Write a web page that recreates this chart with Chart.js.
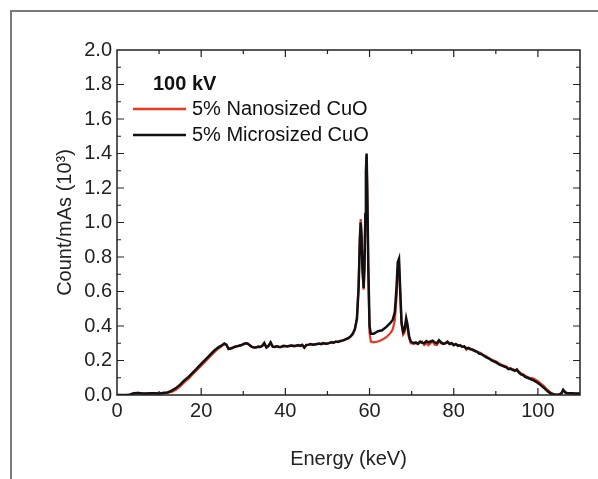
<!DOCTYPE html>
<html>
<head>
<meta charset="utf-8">
<script src="https://cdn.jsdelivr.net/npm/chart.js@4.4.0/dist/chart.umd.min.js"></script>
<style>
  html, body { margin: 0; padding: 0; background: #fff; }
  #wrap { position: relative; width: 598px; height: 479px; overflow: hidden; }
  #frame { position: absolute; left: 10px; top: 10px; width: 600px; height: 480px;
           border-left: 2px solid #7a7a7a; border-top: 2px solid #7a7a7a; }
  canvas { position: absolute; left: 0; top: 0; }
</style>
</head>
<body>
<div id="wrap">
  <div id="frame"></div>
  <canvas id="spectrumChart" width="598" height="479"></canvas>
</div>
<script>
// Energy bins (keV)
const energy = [
  0, 1, 2, 3, 4, 5, 6, 7, 8, 9,
  10, 11, 12, 13, 14, 15, 16, 17, 18, 19,
  20, 21, 22, 23, 24, 25, 25.5, 26, 26.5, 27,
  27.5, 28, 28.5, 29, 29.5, 30, 30.5, 31, 31.5, 32,
  32.5, 33, 33.5, 34, 34.5, 35, 35.5, 36, 36.5, 37,
  37.5, 38, 38.5, 39, 39.5, 40, 40.5, 41, 41.5, 42,
  42.5, 43, 43.5, 44, 44.5, 45, 45.5, 46, 46.5, 47,
  47.5, 48, 48.5, 49, 49.5, 50, 50.5, 51, 51.5, 52,
  52.5, 53, 53.5, 54, 54.5, 55, 55.5, 56, 56.5, 57,
  57.4, 57.7, 57.9, 58.1, 58.3, 58.6, 58.8, 59.0, 59.15, 59.3,
  59.45, 59.7, 60.0, 60.3, 61, 62, 63, 64, 65, 65.5,
  66, 66.4, 66.7, 67.0, 67.3, 67.6, 68.0, 68.3, 68.7, 69.0,
  69.4, 69.8, 70.5, 71, 71.5, 72, 72.5, 73, 73.5, 74,
  74.5, 75, 75.5, 76, 76.5, 77, 77.5, 78, 78.5, 79,
  79.5, 80, 80.5, 81, 81.5, 82, 82.5, 83, 83.5, 84,
  84.5, 85, 85.5, 86, 86.5, 87, 87.5, 88, 88.5, 89,
  89.5, 90, 90.5, 91, 91.5, 92, 92.5, 93, 93.5, 94,
  94.5, 95, 95.5, 96, 96.5, 97, 97.5, 98, 98.5, 99,
  99.5, 100, 100.5, 101, 101.5, 102, 102.5, 103, 103.5, 104,
  105, 105.6, 106, 106.5, 107, 108, 109, 110
];

// 5% Nanosized CuO (red)
const nanoCuO = [
  0, 0, 0, 0.002, 0.01, 0.012, 0.009, 0.008, 0.01, 0.01,
  0.009, 0.012, 0.014, 0.018, 0.03, 0.05, 0.074, 0.095, 0.12, 0.145,
  0.17, 0.195, 0.22, 0.245, 0.268, 0.285, 0.296, 0.292, 0.266, 0.27,
  0.272, 0.278, 0.283, 0.286, 0.29, 0.293, 0.298, 0.3, 0.288, 0.278,
  0.275, 0.276, 0.282, 0.28, 0.283, 0.298, 0.276, 0.284, 0.302, 0.28,
  0.28, 0.284, 0.278, 0.278, 0.286, 0.285, 0.283, 0.283, 0.286, 0.286,
  0.284, 0.29, 0.288, 0.292, 0.272, 0.29, 0.29, 0.293, 0.294, 0.295,
  0.295, 0.296, 0.298, 0.302, 0.3, 0.297, 0.303, 0.306, 0.305, 0.308,
  0.31, 0.314, 0.316, 0.318, 0.324, 0.33, 0.34, 0.352, 0.38, 0.445,
  0.63, 0.92, 1.02, 0.93, 0.73, 0.61, 0.74, 1.04, 1.29, 1.39,
  1.19, 0.72, 0.36, 0.31, 0.305, 0.31, 0.32, 0.335, 0.36, 0.38,
  0.43, 0.56, 0.72, 0.76, 0.58, 0.41, 0.35, 0.36, 0.43, 0.39,
  0.33, 0.3, 0.298, 0.3, 0.295, 0.305, 0.31, 0.29, 0.3, 0.288,
  0.3, 0.31, 0.292, 0.29, 0.31, 0.3, 0.295, 0.298, 0.31, 0.3,
  0.302, 0.288, 0.296, 0.288, 0.29, 0.278, 0.28, 0.262, 0.275, 0.268,
  0.265, 0.258, 0.25, 0.248, 0.242, 0.232, 0.228, 0.22, 0.212, 0.205,
  0.2, 0.195, 0.188, 0.18, 0.174, 0.17, 0.165, 0.155, 0.156, 0.15,
  0.145, 0.142, 0.135, 0.125, 0.12, 0.112, 0.105, 0.1, 0.098, 0.095,
  0.088, 0.08, 0.07, 0.06, 0.05, 0.035, 0.025, 0.015, 0.008, 0.004,
  0.002, 0.01, 0.028, 0.014, 0.01, 0.01, 0.008, 0.008
];

// 5% Microsized CuO (black)
const microCuO = [
  0, 0, 0, 0.002, 0.01, 0.012, 0.009, 0.008, 0.01, 0.01,
  0.009, 0.012, 0.015, 0.025, 0.04, 0.06, 0.085, 0.105, 0.13, 0.155,
  0.18, 0.205, 0.23, 0.255, 0.275, 0.29, 0.298, 0.29, 0.268, 0.27,
  0.275, 0.28, 0.282, 0.285, 0.288, 0.295, 0.3, 0.298, 0.29, 0.28,
  0.276, 0.275, 0.28, 0.278, 0.285, 0.302, 0.275, 0.285, 0.305, 0.28,
  0.278, 0.282, 0.279, 0.28, 0.284, 0.283, 0.281, 0.285, 0.287, 0.283,
  0.286, 0.288, 0.285, 0.29, 0.276, 0.29, 0.292, 0.295, 0.291, 0.293,
  0.296, 0.298, 0.295, 0.3, 0.297, 0.298, 0.302, 0.305, 0.303, 0.31,
  0.308, 0.312, 0.315, 0.32, 0.325, 0.33, 0.34, 0.355, 0.38, 0.44,
  0.62, 0.9, 1.0, 0.92, 0.74, 0.62, 0.75, 1.05, 1.3, 1.4,
  1.2, 0.75, 0.4, 0.355, 0.355, 0.37, 0.375, 0.395, 0.42, 0.435,
  0.48, 0.62, 0.77, 0.79, 0.6, 0.42, 0.365, 0.375, 0.445, 0.41,
  0.34, 0.31, 0.3, 0.305, 0.298, 0.31, 0.302, 0.3, 0.312, 0.305,
  0.31, 0.315, 0.305, 0.3, 0.318, 0.305, 0.298, 0.3, 0.308, 0.295,
  0.3, 0.29, 0.295, 0.285, 0.288, 0.28, 0.282, 0.27, 0.272, 0.265,
  0.262, 0.255, 0.252, 0.24, 0.238, 0.23, 0.222, 0.215, 0.21, 0.2,
  0.195, 0.19, 0.182, 0.175, 0.17, 0.165, 0.16, 0.15, 0.152, 0.145,
  0.14, 0.148, 0.13, 0.12, 0.115, 0.105, 0.1, 0.095, 0.09, 0.085,
  0.078, 0.07, 0.06, 0.05, 0.04, 0.028, 0.018, 0.01, 0.005, 0.003,
  0.002, 0.01, 0.03, 0.015, 0.01, 0.01, 0.008, 0.008
];

const xTickLabels = [0, 20, 40, 60, 80, 100];
const yTickLabels = [0, 0.2, 0.4, 0.6, 0.8, 1.0, 1.2, 1.4, 1.6, 1.8, 2.0];
const legendTitle = '100 kV';
const seriesNames = ['5% Nanosized CuO', '5% Microsized CuO'];

const FONT = "'Liberation Sans', Arial, sans-serif";
const RED = '#e8381f';
const BLACK = '#111111';

const toPoints = vals => energy.map((e, i) => ({ x: e, y: vals[i] }));

// box around plot area with inward ticks on all four sides
const frameTicks = {
  id: 'frameTicks',
  afterDraw(chart) {
    const { ctx, chartArea: a, scales } = chart;
    ctx.save();
    ctx.strokeStyle = '#222';
    ctx.lineWidth = 1.5;
    ctx.strokeRect(a.left, a.top, a.right - a.left, a.bottom - a.top);
    ctx.lineWidth = 1.2;
    ctx.beginPath();
    for (let v = 10; v < 110; v += 10) {
      const x = scales.x.getPixelForValue(v);
      const len = v % 20 === 0 ? 7 : 4;
      ctx.moveTo(x, a.bottom); ctx.lineTo(x, a.bottom - len);
      ctx.moveTo(x, a.top); ctx.lineTo(x, a.top + len);
    }
    for (let i = 1; i < 20; i++) {
      const y = scales.y.getPixelForValue(i / 10);
      const len = i % 2 === 0 ? 7 : 4;
      ctx.moveTo(a.left, y); ctx.lineTo(a.left + len, y);
      ctx.moveTo(a.right, y); ctx.lineTo(a.right - len, y);
    }
    ctx.stroke();
    ctx.restore();
  }
};

// legend drawn inside the plot, top-left
const innerLegend = {
  id: 'innerLegend',
  afterDraw(chart) {
    const { ctx, chartArea: a } = chart;
    ctx.save();
    ctx.fillStyle = '#111';
    ctx.textBaseline = 'middle';
    ctx.font = "bold 20px " + FONT;
    ctx.fillText(legendTitle, a.left + 36, a.top + 34);
    ctx.font = "20px " + FONT;
    [RED, BLACK].forEach((c, i) => {
      const y = a.top + 59 + i * 26;
      ctx.strokeStyle = c;
      ctx.lineWidth = 2.5;
      ctx.beginPath();
      ctx.moveTo(a.left + 16, y); ctx.lineTo(a.left + 69, y);
      ctx.stroke();
      ctx.fillStyle = '#111';
      ctx.fillText(seriesNames[i], a.left + 75, y);
    });
    ctx.restore();
  }
};

new Chart(document.getElementById('spectrumChart').getContext('2d'), {
  type: 'line',
  data: {
    datasets: [
      { label: seriesNames[0], data: toPoints(nanoCuO), borderColor: RED, borderWidth: 2.2, pointRadius: 0, tension: 0, order: 2 },
      { label: seriesNames[1], data: toPoints(microCuO), borderColor: BLACK, borderWidth: 2.5, pointRadius: 0, tension: 0, order: 1 }
    ]
  },
  options: {
    responsive: false,
    animation: false,
    layout: { padding: { left: 49, top: 50, right: 18, bottom: 4 } },
    plugins: { legend: { display: false }, tooltip: { enabled: false } },
    scales: {
      x: {
        type: 'linear', min: 0, max: 110,
        afterBuildTicks: s => { s.ticks = xTickLabels.map(v => ({ value: v })); },
        afterFit: s => { s.height = 479 - 395 - 4; },
        grid: { display: false, drawTicks: false },
        border: { display: false },
        ticks: { color: '#222', font: { family: FONT, size: 20 }, padding: 4, maxRotation: 0 },
        title: { display: true, text: 'Energy (keV)', color: '#222', font: { family: FONT, size: 20 } }
      },
      y: {
        min: 0, max: 2.0,
        afterBuildTicks: s => { s.ticks = yTickLabels.map(v => ({ value: v })); },
        afterFit: s => { s.width = 117 - 49; },
        grid: { display: false, drawTicks: false },
        border: { display: false },
        ticks: { color: '#222', font: { family: FONT, size: 20 }, padding: 5, callback: v => v.toFixed(1) },
        title: { display: true, text: 'Count/mAs (10³)', color: '#222', font: { family: FONT, size: 20 } }
      }
    }
  },
  plugins: [frameTicks, innerLegend]
});
</script>
</body>
</html>
